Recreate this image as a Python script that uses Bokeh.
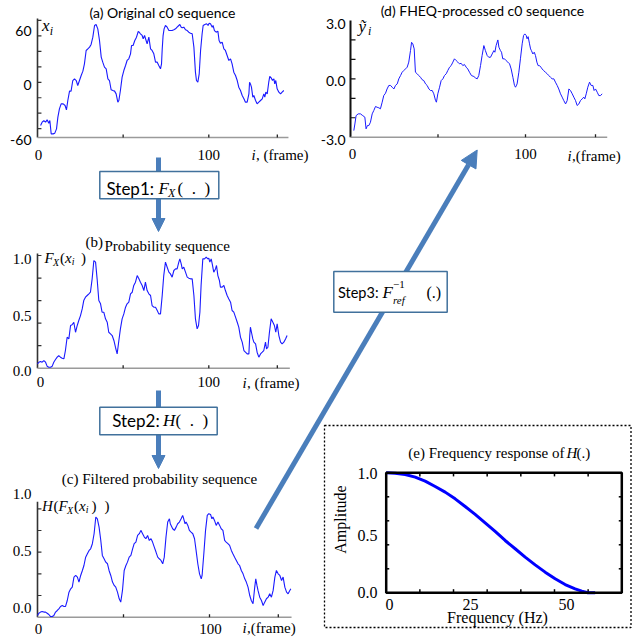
import math
from bokeh.plotting import figure
from bokeh.models import Range1d, Label, Arrow, NormalHead
from bokeh.embed import file_html
from bokeh.resources import INLINE

SANS = "Lato"
SERIF = "Liberation Serif"
BLUE = "#1a1aff"
ARROWC = "#4A7EBB"
BOXLINE = "#41719C"

# ---------------- data ----------------
# (a) original c0 sequence
a_frames = [1.8, 2.7, 3.7, 4.7, 5.6, 6.6, 7.2, 8.0, 9.1, 10.1, 11.1, 11.9, 12.8, 13.8, 15.0, 16.1, 16.9, 17.7, 18.7, 19.6,
            20.6, 21.6, 22.6, 23.5, 24.5, 25.5, 26.5, 27.4, 28.4, 29.4, 30.4, 31.3, 32.3, 33.3, 34.2, 35.2, 36.2, 37.2, 38.1, 39.1,
            40.1, 41.1, 42.0, 43.0, 44.0, 45.0, 45.9, 46.9, 47.5, 48.4, 49.4, 50.4, 51.4, 52.3, 53.3, 54.3, 54.9, 55.8, 56.8, 57.8,
            58.8, 59.4, 60.1, 61.1, 61.7, 62.5, 63.4, 64.0, 65.0, 66.0, 66.9, 67.9, 68.9, 69.9, 70.8, 71.8, 72.4, 72.8, 73.3, 73.9,
            74.7, 75.7, 76.7, 77.6, 78.6, 79.6, 80.6, 81.5, 82.5, 83.1, 83.9, 84.5, 85.4, 86.4, 87.4, 88.3, 89.3, 90.3, 91.3, 92.2,
            92.8, 93.6, 94.4, 95.2, 96.1, 96.7, 97.7, 98.7, 99.6, 100.2, 101.0, 102.0, 102.5, 103.3, 104.3, 105.3, 106.0, 106.8, 107.8, 108.8,
            109.7, 110.7, 111.7, 112.7, 113.6, 114.6, 115.6, 116.6, 117.5, 118.5, 119.5, 120.5, 121.4, 122.4, 123.4, 123.8, 124.3, 124.9, 125.7, 126.3,
            127.3, 128.2, 129.2, 130.2, 131.2, 132.1, 132.7, 133.3, 134.1, 135.0, 135.6, 136.4, 137.2, 138.0, 138.5, 139.1, 139.9, 140.9, 141.9, 142.8,
            143.8]
a_values = [-46.4, -42.7, -40.8, -42.7, -40.0, -43.8, -40.8, -55.9, -55.9, -55.1, -50.2, -37.0, -27.6, -21.9, -21.9, -23.8, -28.7, -18.1, -7.5, -7.5,
            4.5, 6.4, 4.5, -1.1, 4.5, 10.2, 15.1, 23.4, 38.5, 40.4, 42.3, 45.3, 53.6, 66.8, 67.9, 63.0, 49.8, 31.0, 25.3, 19.6,
            17.7, 6.4, 4.5, -6.0, -6.8, -7.5, -10.6, -20.0, -18.1, -6.8, 8.3, 15.8, 21.5, 27.2, 29.1, 34.7, 44.2, 44.2, 49.8, 53.6,
            60.0, 59.2, 57.4, 55.5, 51.7, 55.5, 49.8, 46.0, 53.6, 40.4, 38.5, 34.7, 25.3, 25.3, 21.5, 17.7, 23.4, 40.0, 55.0, 63.0,
            66.8, 64.9, 61.1, 61.1, 61.1, 61.9, 63.0, 64.9, 66.8, 67.9, 64.9, 64.2, 64.9, 61.9, 61.1, 59.2, 58.1, 57.4, 42.3, 14.0,
            4.5, 2.6, 12.1, 38.5, 57.4, 66.8, 67.9, 68.7, 66.8, 69.4, 68.7, 64.9, 66.8, 61.1, 59.2, 60.4, 49.8, 46.8, 47.9, 40.4,
            38.5, 32.8, 27.2, 29.1, 23.4, 14.0, 10.2, 4.5, -3.0, -6.8, -12.5, -16.2, -20.0, -20.0, -10.6, 2.6, 0.7, -3.0, -14.3, -12.5,
            -18.1, -21.9, -20.0, -18.1, -16.2, -10.6, -14.3, -8.7, -10.6, 2.6, 9.1, 7.5, 4.5, 6.4, 0.7, 4.5, -4.9, -8.7, -10.6, -8.7,
            -6.8]

# (b) probability sequence F_X(x_i)
b_frames = [0.0, 0.8, 1.75, 2.7, 3.7, 4.7, 5.6, 6.6, 7.6, 8.6, 9.5, 10.5, 11.5, 12.4, 13.4, 14.4, 15.4, 16.3, 17.3, 18.3,
            19.3, 20.2, 21.2, 22.2, 23.2, 24.1, 25.1, 26.1, 27.0, 28.0, 29.0, 30.0, 30.9, 31.9, 32.9, 33.9, 34.8, 35.8, 36.8, 37.7,
            38.7, 39.7, 40.7, 41.6, 42.6, 43.6, 44.6, 45.5, 46.5, 47.5, 48.4, 49.4, 50.4, 51.4, 52.3, 53.3, 54.3, 55.3, 56.2, 57.2,
            58.2, 59.2, 60.1, 61.1, 62.1, 63.0, 64.0, 65.0, 66.0, 66.9, 67.9, 68.9, 69.9, 70.8, 71.8, 72.8, 73.7, 74.7,
            75.7, 76.7, 77.6, 78.6, 79.6, 80.6, 81.5, 82.5, 83.1, 83.9, 84.5, 85.4, 86.4, 87.4, 88.3, 89.3, 90.3, 91.3, 92.2, 93.2,
            94.0, 94.8, 95.5, 96.5, 97.5, 98.5, 99.4, 100.0, 100.6, 101.4, 102.0, 102.9, 103.9, 104.5, 105.3, 106.2, 106.8, 107.8, 108.8, 109.7,
            110.7, 111.7, 112.7, 113.6, 114.6, 115.6, 116.6, 117.5, 118.5, 119.5, 120.5, 121.4, 122.4, 123.4, 123.9, 124.3, 124.9, 125.7, 126.3, 127.3,
            128.2, 129.2, 130.2, 131.2, 132.1, 133.1, 133.7, 134.5, 135.4, 136.4, 137.4, 138.3, 139.1, 139.9, 140.9, 141.9, 142.8, 143.8, 144.8, 145.7]
b_values = [0.038, 0.053, 0.059, 0.053, 0.068, 0.053, 0.018, 0.009, 0.009, 0.018, 0.053, 0.077, 0.098, 0.112, 0.098, 0.089, 0.083, 0.157, 0.275, 0.260,
            0.379, 0.385, 0.408, 0.319, 0.379, 0.423, 0.467, 0.526, 0.600, 0.630, 0.645, 0.660, 0.674, 0.793, 0.955, 0.941, 0.793, 0.600, 0.571, 0.497,
            0.497, 0.438, 0.408, 0.319, 0.305, 0.290, 0.246, 0.186, 0.127, 0.246, 0.349, 0.438, 0.482, 0.541, 0.571, 0.586, 0.660, 0.674, 0.734, 0.763,
            0.822, 0.793, 0.763, 0.734, 0.689, 0.763, 0.689, 0.660, 0.645, 0.556, 0.541, 0.541, 0.512, 0.482, 0.482, 0.645, 0.822, 0.941,
            0.896, 0.852, 0.837, 0.808, 0.867, 0.881, 0.881, 0.941, 0.970, 0.926, 0.881, 0.896, 0.852, 0.808, 0.799, 0.793, 0.793, 0.645, 0.438, 0.349,
            0.379, 0.497, 0.734, 0.970, 0.970, 0.985, 0.970, 0.976, 0.941, 0.970, 0.926, 0.852, 0.881, 0.911, 0.822, 0.778, 0.719, 0.719, 0.734, 0.689,
            0.645, 0.615, 0.586, 0.512, 0.497, 0.453, 0.408, 0.364, 0.275, 0.231, 0.157, 0.142, 0.127, 0.127, 0.290, 0.364, 0.319, 0.260, 0.231, 0.216,
            0.142, 0.098, 0.127, 0.142, 0.157, 0.231, 0.172, 0.186, 0.319, 0.438, 0.408, 0.379, 0.319, 0.393, 0.290, 0.231, 0.216, 0.231, 0.260, 0.290]

# (c) filtered probability sequence H(F_X(x_i))
c_frames = [0.0, 0.8, 1.75, 2.7, 3.7, 4.7, 5.6, 6.6, 7.6, 8.6, 9.5, 10.5, 11.5, 12.4, 13.4, 14.4, 15.4, 16.3, 17.3, 18.3,
            19.3, 20.2, 21.2, 22.2, 23.2, 24.1, 25.1, 26.1, 27.0, 28.0, 29.0, 30.0, 30.9, 31.9, 32.9, 33.9, 34.8, 35.8, 36.8, 37.7,
            38.7, 39.7, 40.7, 41.6, 42.6, 43.6, 44.6, 45.5, 46.5, 47.5, 48.4, 49.4, 50.4, 51.4, 52.3, 53.3, 54.3, 55.3, 56.2, 57.2,
            58.2, 59.2, 60.1, 61.1, 62.1, 63.0, 64.0, 65.0, 66.0, 66.9, 67.9, 68.9, 69.9, 70.8, 71.8, 72.8, 73.7, 74.7, 75.7, 76.7,
            77.2, 78.6, 79.6, 80.6, 81.5, 82.5, 83.5, 84.4, 85.0, 85.8, 86.4, 87.4, 88.3, 89.3, 90.3, 91.3, 92.2, 93.2, 94.2, 95.2,
            95.7, 96.7, 97.7, 98.7, 99.6, 100.6, 101.4, 102.0, 102.9, 103.9, 104.9, 105.9, 106.8, 107.8, 108.8, 109.7, 110.7, 111.7, 112.7, 113.6,
            114.6, 115.6, 116.6, 117.5, 118.5, 119.5, 120.5, 121.4, 122.4, 123.4, 124.3, 125.3, 126.3, 126.9, 127.6, 128.2, 129.2, 130.2, 131.2, 132.1,
            133.1, 134.1, 135.0, 136.0, 137.0, 138.0, 138.9, 139.9, 140.9, 141.9, 142.8, 143.8, 144.8, 145.7, 146.7, 147.3]
c_values = [0.016, 0.037, 0.047, 0.053, 0.047, 0.047, 0.037, 0.025, 0.006, 0.006, 0.016, 0.047, 0.062, 0.077, 0.099, 0.108, 0.099, 0.099, 0.154, 0.231,
            0.262, 0.277, 0.370, 0.385, 0.370, 0.324, 0.385, 0.431, 0.477, 0.554, 0.585, 0.616, 0.631, 0.678, 0.770, 0.924, 0.908, 0.831, 0.708, 0.570,
            0.539, 0.508, 0.493, 0.431, 0.385, 0.324, 0.293, 0.277, 0.231, 0.170, 0.139, 0.247, 0.431, 0.477, 0.508, 0.554, 0.570, 0.631, 0.678, 0.693,
            0.754, 0.770, 0.801, 0.770, 0.739, 0.724, 0.754, 0.708, 0.724, 0.693, 0.647, 0.601, 0.554, 0.539, 0.524, 0.493, 0.554, 0.739, 0.878, 0.908,
            0.862, 0.816, 0.801, 0.831, 0.862, 0.878, 0.908, 0.939, 0.908, 0.862, 0.878, 0.847, 0.801, 0.785, 0.770, 0.724, 0.616, 0.493, 0.400, 0.354,
            0.385, 0.585, 0.801, 0.939, 0.955, 0.948, 0.908, 0.924, 0.893, 0.847, 0.878, 0.847, 0.816, 0.801, 0.708, 0.693, 0.678, 0.662, 0.616, 0.585,
            0.554, 0.524, 0.493, 0.477, 0.431, 0.400, 0.354, 0.324, 0.277, 0.200, 0.154, 0.124, 0.277, 0.354, 0.293, 0.247, 0.185, 0.154, 0.108, 0.139,
            0.170, 0.185, 0.216, 0.185, 0.247, 0.370, 0.431, 0.400, 0.385, 0.339, 0.370, 0.277, 0.231, 0.216, 0.247, 0.262]

# (d) FHEQ-processed c0 sequence
d_frames = [1.9, 2.5, 3.2, 4.4, 5.7, 7.0, 8.2, 8.9, 9.7, 10.5, 11.4, 12.4, 13.3, 14.3, 15.2, 16.2, 17.1, 18.1, 19.0, 20.0,
            20.9, 21.9, 22.9, 23.8, 24.8, 25.7, 26.7, 27.6, 28.6, 29.5, 30.5, 31.4, 32.4, 33.3, 34.3, 34.9, 35.6, 36.4, 37.1, 38.1,
            39.0, 40.0, 40.9, 41.9, 42.9, 43.8, 44.8, 45.7, 46.7, 47.6, 48.6, 49.1, 49.9, 50.9, 51.8, 52.8, 53.7, 54.7, 55.6, 56.6,
            57.5, 58.5, 59.4, 60.4, 61.3, 62.3, 63.2, 64.2, 65.1, 66.1, 67.0, 68.0, 69.1, 70.5,
            71.4, 72.4, 73.3, 74.3, 75.2, 76.2, 77.1, 78.1, 79.0, 80.0, 80.95, 81.9, 82.5, 83.2, 84.2, 84.8, 85.7, 86.3, 87.0, 88.0,
            88.9, 89.9, 90.9, 91.8, 92.8, 93.7, 94.3, 95.2, 96.2, 97.1, 98.1, 98.9, 99.6, 100.4, 100.9, 101.5, 102.3, 102.9, 103.4, 104.2,
            105.0, 105.7, 106.5, 107.2, 108.0, 108.8, 109.5, 110.3, 111.4, 112.4, 113.3, 114.3, 115.2, 116.2, 117.1, 118.1, 119.0, 120.0, 120.95, 121.9,
            122.9, 123.8, 124.8, 125.7, 126.7, 127.6, 128.6, 129.5, 130.5, 131.4, 132.4, 133.3, 133.9, 134.7, 135.6, 136.6, 137.5, 138.5, 139.2, 140.0,
            141.0, 141.9, 142.9, 143.8]
d_values = [-2.66, -2.32, -1.89, -1.80, -1.80, -1.89, -1.97, -2.57, -2.40, -2.40, -2.23, -1.80, -1.63, -1.42, -1.46, -1.49, -1.54, -1.20, -0.86, -0.74,
            -0.52, -0.34, -0.34, -0.43, -0.52, -0.34, -0.26, 0.00, 0.17, 0.34, 0.43, 0.51, 0.60, 0.86, 1.46, 1.88, 1.80, 1.54, 0.34, 0.26,
            0.17, 0.08, -0.04, -0.09, -0.26, -0.34, -0.52, -0.60, -0.60, -0.77, -1.12, -1.20, -0.77, -0.43, -0.09, 0.00, 0.17, 0.26, 0.43, 0.60,
            0.68, 0.86, 1.03, 0.94, 0.86, 0.77, 0.80, 0.68, 0.74, 0.60, 0.51, 0.34, 0.17, 0.12,
            0.05, 0.00, 0.17, 0.68, 1.20, 1.71, 1.45, 1.20, 1.11, 1.11, 1.28, 1.45, 1.37, 1.71, 2.00, 1.63, 1.45, 1.37, 1.03, 1.03,
            0.94, 0.86, 0.77, 0.51, 0.08, -0.34, -0.43, -0.26, 0.34, 1.03, 1.80, 2.23, 2.31, 2.23, 2.06, 2.17, 1.80, 1.54, 1.45, 1.28,
            1.37, 1.20, 0.86, 0.68, 0.68, 0.60, 0.51, 0.43, 0.34, 0.26, 0.17, 0.08, 0.00, 0.00, -0.17, -0.34, -0.52, -0.77, -0.94, -1.12,
            -1.29, -1.12, -0.52, -0.60, -0.77, -0.94, -1.12, -1.37, -1.29, -1.12, -1.03, -0.94, -1.03, -0.77, -0.43, -0.17, -0.34, -0.34, -0.60, -0.52,
            -0.69, -0.86, -0.86, -0.77]

# (e) frequency response of H(.)
e_freq = [0.0, 2.66, 5.64, 8.61, 11.58, 14.55, 17.52, 20.49, 23.46, 26.43, 29.40, 32.37, 35.34, 38.32, 41.29, 44.26,
          47.23, 50.20, 53.17, 56.14, 58.12, 59.90, 62.08]
e_amp = [1.0, 0.997, 0.986, 0.964, 0.931, 0.886, 0.839, 0.783, 0.719, 0.653, 0.583, 0.511, 0.436, 0.367, 0.297, 0.233,
         0.172, 0.117, 0.069, 0.033, 0.014, 0.0, 0.0]

frame_ticks = [50, 100, 140]

# ---------------- canvas ----------------
W, H = 632, 637
p = figure(width=W, height=H, x_range=Range1d(0, W), y_range=Range1d(H, 0),
           output_backend="svg", toolbar_location=None,
           x_axis_location=None, y_axis_location=None, min_border=0)
p.grid.visible = False
p.outline_line_color = None
p.background_fill_color = "white"
p.border_fill_color = "white"


def sub(xs, xt, ys, yt):
    return p.subplot(x_source=Range1d(*xs), y_source=Range1d(*ys),
                     x_target=Range1d(*xt), y_target=Range1d(*yt))


def L(x, y, s, size=15, font=SERIF, style="normal", align="left", base="middle", angle=0.0):
    p.add_layout(Label(x=x, y=y, text=s, text_font=font, text_font_size=f"{size}px",
                       text_font_style=style, text_align=align, text_baseline=base,
                       angle=angle, text_color="black"))


def axes(sp, xmax, ybot, ytop, xticks, yticks, xt_len, yt_len, ycol="#333333", ywidth=1.6):
    sp.segment(x0=[0], y0=[ybot], x1=[0], y1=[ytop], line_color=ycol, line_width=ywidth)
    sp.segment(x0=[0], y0=[ybot], x1=[xmax], y1=[ybot], line_color="#9a9a9a", line_width=1.6)
    n = len(yticks)
    sp.segment(x0=[0] * n, y0=yticks, x1=[yt_len] * n, y1=yticks, line_color=ycol, line_width=1.2)
    m = len(xticks)
    sp.segment(x0=xticks, y0=[ybot] * m, x1=xticks, y1=[ybot + xt_len] * m, line_color="#222222", line_width=1.3)


# ---- (a)
sa = sub((0, 100), (37, 208.3), (-60, 60), (137, 31))
axes(sa, 146.5, -60, 74.7, frame_ticks, [-50, -32.5, -15, 2.5, 20, 37.5, 55, 72.5], 3.4, 2.3)
sa.line(a_frames, a_values, line_color=BLUE, line_width=1.1)
L(162, 12, "(a) Original c0 sequence", 14, SANS, align="center")
L(41.5, 25, "x", 17, SERIF, "italic")
L(49.3, 30.5, "i", 12, SERIF, "italic")
L(31, 30, "60", 14, SANS, align="right")
L(31, 84, "0", 14, SANS, align="right")
L(31, 139, "-60", 14, SANS, align="right")
L(38, 154, "0", 15, SERIF, align="center")
L(208.3, 154, "100", 15, SERIF, align="center")
L(251, 154, "i", 15, SERIF, "italic")
L(255.5, 154, ", (frame)", 15, SERIF)

# ---- (b)
sb = sub((0, 100), (37, 208.3), (0, 1), (367.7, 255))
axes(sb, 147.3, 0, 1.018, frame_ticks, [0.2, 0.4, 0.6, 0.8, 1.0], 0.027, 2.3)
sb.line(b_frames, b_values, line_color=BLUE, line_width=1.1)
L(85, 241, "(b)", 15, SERIF)
L(104, 245, "Probability sequence", 15, SERIF)
L(44, 257, "F", 15, SERIF, "italic")
L(52.5, 261.5, "X", 10, SERIF, "italic")
L(59.5, 257, "(", 15, SERIF)
L(64.5, 257, "x", 15, SERIF, "italic")
L(71.2, 261, "i", 10, SERIF, "italic")
L(80.5, 257, ")", 15, SERIF)
L(31, 258, "1.0", 15, SERIF, align="right")
L(31, 315, "0.5", 15, SERIF, align="right")
L(31, 370, "0.0", 15, SERIF, align="right")
L(40, 381, "0", 15, SERIF, align="center")
L(208.3, 381, "100", 15, SERIF, align="center")
L(242, 382, "i", 15, SERIF, "italic")
L(246.5, 382, ", (frame)", 15, SERIF)

# ---- (c)
sc = sub((0, 100), (37, 209), (0, 1), (616.7, 508.3))
axes(sc, 147.7, 0, 1.064, frame_ticks, [0.2, 0.4, 0.6, 0.8, 1.0], 0.028, 2.3)
sc.line(c_frames, c_values, line_color=BLUE, line_width=1.1)
L(159, 478, "(c) Filtered probability sequence", 15, SERIF, align="center")
L(41.5, 505, "H", 15, SERIF, "italic")
L(53, 505, "(", 15, SERIF)
L(58, 505, "F", 15, SERIF, "italic")
L(66.5, 509.5, "X", 10, SERIF, "italic")
L(73.5, 505, "(", 15, SERIF)
L(78.5, 505, "x", 15, SERIF, "italic")
L(85.2, 509, "i", 10, SERIF, "italic")
L(91, 505, ")", 15, SERIF)
L(104, 505, ")", 15, SERIF)
L(31, 493, "1.0", 15, SERIF, align="right")
L(31, 550, "0.5", 15, SERIF, align="right")
L(31, 607, "0.0", 15, SERIF, align="right")
L(38, 628, "0", 15, SERIF, align="center")
L(210, 628, "100", 15, SERIF, align="center")
L(242, 627, "i", 15, SERIF, "italic")
L(246.5, 627, ",(frame)", 15, SERIF)

# ---- (d)
sd = sub((0, 100), (350, 525), (-3, 3), (136.7, 20))
axes(sd, 146.7, -3, 3, frame_ticks, [-2, -1, 0, 1, 2], 0.154, 2.86, ycol="#111111", ywidth=2.0)
sd.line(d_frames, d_values, line_color=BLUE, line_width=1.0)
L(482, 10, "(d) FHEQ-processed c0 sequence", 14, SANS, align="center")
L(358, 26, "\u1ef9", 17, SERIF, "italic")
L(367.5, 30.5, "i", 12, SERIF, "italic")
L(345, 23, "3.0", 14, SANS, align="right")
L(345, 80, "0.0", 14, SANS, align="right")
L(345, 139, "-3.0", 14, SANS, align="right")
L(352, 153, "0", 15, SERIF, align="center")
L(525, 153, "100", 15, SERIF, align="center")
L(567, 155, "i", 15, SERIF, "italic")
L(571.5, 155, ",(frame)", 15, SERIF)

# ---- (e)
p.quad(left=[324], right=[630.5], top=[425], bottom=[627], fill_color=None,
       line_color="#000000", line_width=1.3, line_dash="2 2")
se = sub((0, 70), (385.7, 621.3), (0, 1), (592.3, 472.3))
xt = [10, 20, 30, 40, 50, 60]
yt = [0.2, 0.4, 0.6, 0.8]
se.segment(x0=xt, y0=[0] * 6, x1=xt, y1=[0.03] * 6, line_color="black", line_width=1.5)
se.segment(x0=xt, y0=[1] * 6, x1=xt, y1=[0.97] * 6, line_color="black", line_width=1.5)
se.segment(x0=[0] * 4, y0=yt, x1=[0.9] * 4, y1=yt, line_color="black", line_width=1.5)
se.segment(x0=[70] * 4, y0=yt, x1=[69.1] * 4, y1=yt, line_color="black", line_width=1.5)
se.line(e_freq, e_amp, line_color="#0000ff", line_width=3)
se.quad(left=[0], right=[70], bottom=[0], top=[1], fill_color=None, line_color="black", line_width=2.5)
L(564, 452, "(e) Frequency response of", 15, SERIF, align="right")
L(566, 452, "H", 15, SERIF, "italic")
L(576, 452, "(.)", 15, SERIF)
L(377, 473, "1.0", 16, SERIF, align="right")
L(377, 535, "0.5", 16, SERIF, align="right")
L(377, 592, "0.0", 16, SERIF, align="right")
L(389, 604, "0", 16, SERIF, align="center")
L(470, 604, "25", 16, SERIF, align="center")
L(566, 604, "50", 16, SERIF, align="center")
L(497, 617, "Frequency (Hz)", 16, SERIF, align="center")
L(340, 519, "Amplitude", 16, SERIF, align="center", angle=math.pi / 2)

# ---- step arrows and boxes
for (xs, ys, xe, ye, hs) in [(158, 157, 158, 231, 13), (158, 390, 158, 468, 13), (255.5, 528, 476.7, 149.5, 17)]:
    p.add_layout(Arrow(x_start=xs, y_start=ys, x_end=xe, y_end=ye, line_color=ARROWC, line_width=5,
                       end=NormalHead(size=hs, fill_color=ARROWC, line_color=ARROWC), level="underlay"))

p.quad(left=[99.3, 99.3, 333.3], right=[218.3, 216.7, 446.7], top=[171, 406.7, 271], bottom=[198.3, 434.3, 311.7],
       fill_color="white", line_color=BOXLINE, line_width=1.5)
L(106, 188, "Step1:", 17, SANS)
L(158, 188, "F", 17, SERIF, "italic")
L(167.5, 192.5, "X", 12, SERIF, "italic")
L(177, 188, "(\u2002.\u2002)", 17, SERIF)
L(111.7, 420, "Step2:", 17, SANS)
L(162.5, 420, "H", 17, SERIF, "italic")
L(175, 420, "(\u2002.\u2002)", 17, SERIF)
L(337.5, 291.7, "Step3:", 14.5, SANS)
L(382, 291.7, "F", 17, SERIF, "italic")
L(392.5, 283.5, "\u22121", 11, SERIF)
L(392.5, 299.5, "ref", 11, SERIF, "italic")
L(426, 291.7, "(.)", 16, SERIF)

open("out.html", "w").write(file_html(p, INLINE))
